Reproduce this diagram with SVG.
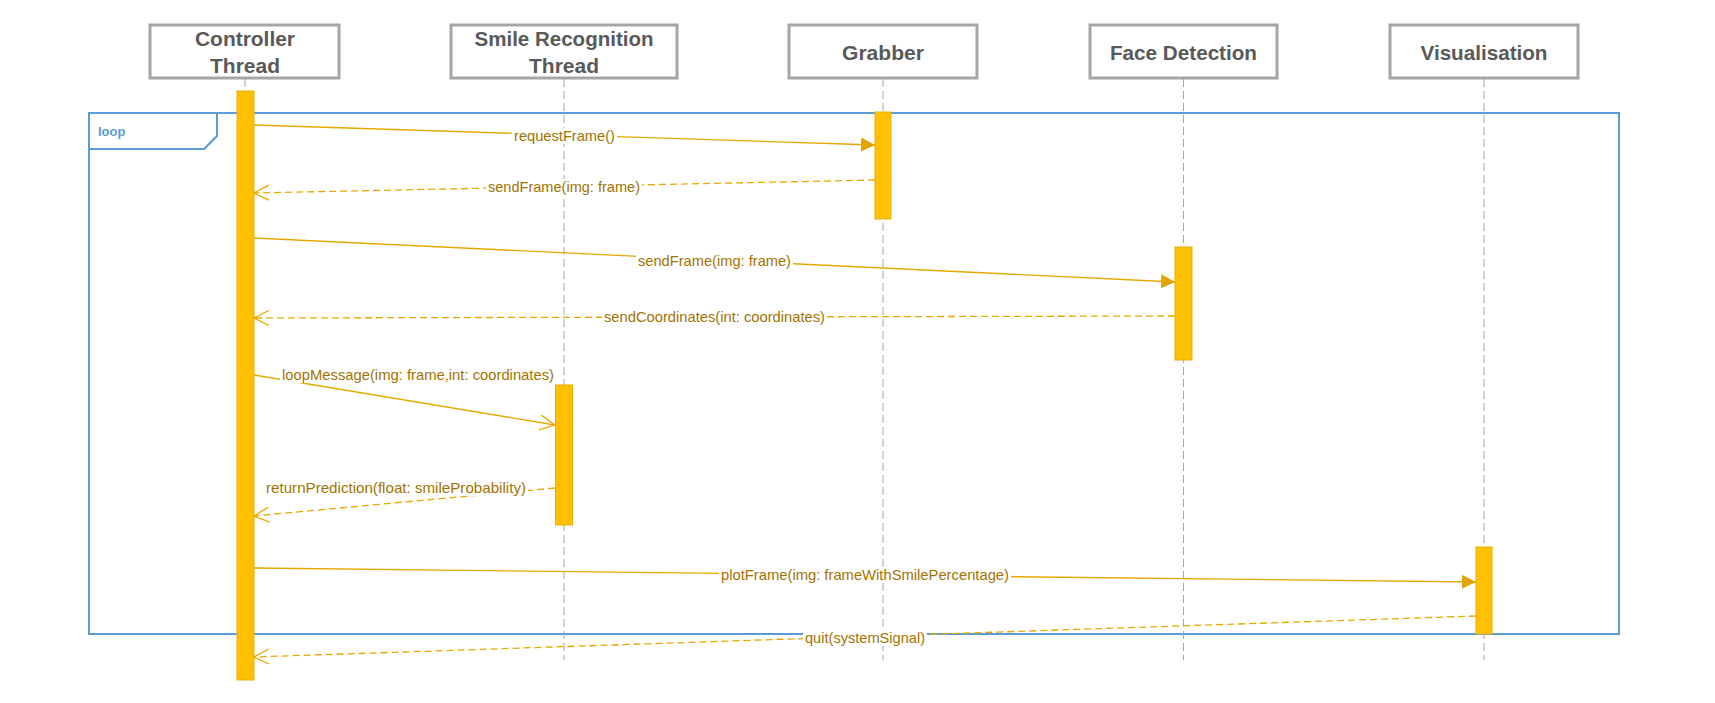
<svg xmlns="http://www.w3.org/2000/svg" width="1715" height="703" viewBox="0 0 1715 703">
<style>
.box{fill:#fff;stroke:#a6a6a6;stroke-width:3}
.hdr{font-family:"Liberation Sans",Arial,sans-serif;font-weight:bold;font-size:21px;fill:#595959;text-anchor:middle}
.life{stroke:#a6a6a6;stroke-width:1;stroke-dasharray:8 4;fill:none}
.act{fill:#ffc000;stroke:#ebb000;stroke-width:1}
.msg{stroke:#e6a800;stroke-width:1.3;fill:none}
.ret{stroke-dasharray:7 4}
.lbl{font-family:"Liberation Sans",Arial,sans-serif;font-size:14.5px;fill:#a37300;text-anchor:middle}
.lbg{fill:#fff}
.frame{fill:none;stroke:#5b9bd5;stroke-width:2}
.frlbl{font-family:"Liberation Sans",Arial,sans-serif;font-weight:bold;font-size:13px;fill:#5b9bd5}
</style>
<defs>
<marker id="filled" markerUnits="userSpaceOnUse" markerWidth="15" markerHeight="15" refX="14" refY="7" orient="auto"><path d="M0,0 L14,7 L0,14 z" fill="#e3a400"/></marker>
<marker id="open" markerUnits="userSpaceOnUse" markerWidth="18" markerHeight="18" refX="15.5" refY="8" orient="auto"><path d="M0.5,0.5 L15.5,8 L0.5,15.5" fill="none" stroke="#e6a800" stroke-width="1.3"/></marker>
</defs>
<rect width="1715" height="703" fill="#fff"/>

<g id="loop-frame">
<rect class="frame" x="89" y="113" width="1530" height="521"/>
<polyline class="frame" points="89,149 204,149 217,136 217,113"/>
<text class="frlbl" x="98" y="136">loop</text>
</g>

<g id="lifelines">
<line class="life" x1="245" y1="79" x2="245" y2="660"/>
<line class="life" x1="564" y1="79" x2="564" y2="660"/>
<line class="life" x1="883" y1="79" x2="883" y2="660"/>
<line class="life" x1="1183.5" y1="79" x2="1183.5" y2="660"/>
<line class="life" x1="1484" y1="79" x2="1484" y2="660"/>
</g>

<g id="controller">
<rect class="box" x="150" y="25" width="189" height="53"/>
<text class="hdr" x="245" y="45.5" textLength="100" lengthAdjust="spacingAndGlyphs">Controller</text>
<text class="hdr" x="245" y="72.5" textLength="70" lengthAdjust="spacingAndGlyphs">Thread</text>
<rect class="act" x="237" y="91" width="17" height="589"/>
</g>

<g id="smile">
<rect class="box" x="451" y="25" width="226" height="53"/>
<text class="hdr" x="564" y="45.5" textLength="179" lengthAdjust="spacingAndGlyphs">Smile Recognition</text>
<text class="hdr" x="564" y="72.5" textLength="70" lengthAdjust="spacingAndGlyphs">Thread</text>
<rect class="act" x="555.5" y="385" width="17" height="140"/>
</g>

<g id="grabber">
<rect class="box" x="789" y="25" width="188" height="53"/>
<text class="hdr" x="883" y="60" textLength="82" lengthAdjust="spacingAndGlyphs">Grabber</text>
<rect class="act" x="875" y="112" width="16" height="107"/>
</g>

<g id="face-detection">
<rect class="box" x="1090" y="25" width="187" height="53"/>
<text class="hdr" x="1183.5" y="60" textLength="147" lengthAdjust="spacingAndGlyphs">Face Detection</text>
<rect class="act" x="1175" y="247" width="17" height="113"/>
</g>

<g id="visualisation">
<rect class="box" x="1390" y="25" width="188" height="53"/>
<text class="hdr" x="1484" y="60" textLength="127" lengthAdjust="spacingAndGlyphs">Visualisation</text>
<rect class="act" x="1476" y="547" width="16" height="87"/>
</g>

<g id="connectors">
<path class="msg" d="M254,125 L875,145" marker-end="url(#filled)"/>
<rect class="lbg" x="512" y="128" width="105" height="16"/>
<text class="lbl" x="564.5" y="141" textLength="101" lengthAdjust="spacingAndGlyphs">requestFrame()</text>

<path class="msg ret" d="M875,180 L254,193" marker-end="url(#open)"/>
<rect class="lbg" x="486" y="179" width="156" height="16"/>
<text class="lbl" x="564" y="192" textLength="152" lengthAdjust="spacingAndGlyphs">sendFrame(img: frame)</text>

<path class="msg" d="M254,238 L1175,282" marker-end="url(#filled)"/>
<rect class="lbg" x="636" y="253" width="157" height="16"/>
<text class="lbl" x="714.5" y="266" textLength="153" lengthAdjust="spacingAndGlyphs">sendFrame(img: frame)</text>

<path class="msg ret" d="M1175,316 L254,318" marker-end="url(#open)"/>
<rect class="lbg" x="602" y="309" width="225" height="16"/>
<text class="lbl" x="714.5" y="322" textLength="221" lengthAdjust="spacingAndGlyphs">sendCoordinates(int: coordinates)</text>

<path class="msg" d="M254,375 L555,425" marker-end="url(#open)"/>
<rect class="lbg" x="280" y="367" width="276" height="16"/>
<text class="lbl" x="418" y="380" textLength="272" lengthAdjust="spacingAndGlyphs">loopMessage(img: frame,int: coordinates)</text>

<path class="msg ret" d="M555,488 L254,516" marker-end="url(#open)"/>
<rect class="lbg" x="264" y="480" width="264" height="16"/>
<text class="lbl" x="396" y="493" textLength="260" lengthAdjust="spacingAndGlyphs">returnPrediction(float: smileProbability)</text>

<path class="msg" d="M254,568 L1476,582" marker-end="url(#filled)"/>
<rect class="lbg" x="719" y="567" width="292" height="16"/>
<text class="lbl" x="865" y="580" textLength="288" lengthAdjust="spacingAndGlyphs">plotFrame(img: frameWithSmilePercentage)</text>

<path class="msg ret" d="M1476,616 L254,657" marker-end="url(#open)"/>
<rect class="lbg" x="803" y="630" width="124" height="16"/>
<text class="lbl" x="865" y="643" textLength="120" lengthAdjust="spacingAndGlyphs">quit(systemSignal)</text>
</g>
</svg>
